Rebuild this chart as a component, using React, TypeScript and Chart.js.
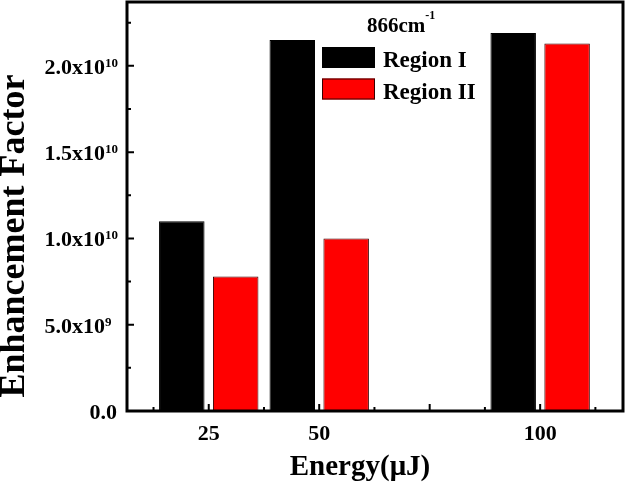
import React, { useEffect, useRef } from "react";
import { Chart, registerables } from "chart.js";

Chart.register(...registerables);

// ---- data ----
const energies = [25, 50, 100];
const regionI = [1.10e10, 2.15e10, 2.19e10];
const regionII = [7.8e9, 1.0e10, 2.13e10];
const seriesLabels = ["Region I", "Region II"];
const seriesColors = ["#000000", "#ff0000"];
const seriesBorders = ["#000000", "#3a0000"];
const xTickLabels = [25, 50, 100];
const xMajorTicks = [25, 50, 75, 100];
const xMinorTicks = [12.5, 37.5, 62.5, 87.5, 112.5];
const yMajorTicks = [0, 5e9, 1e10, 1.5e10, 2e10];
const yMinorTicks = [2.5e9, 7.5e9, 1.25e10, 1.75e10, 2.25e10];
const legendTitle = "866cm";
const legendTitleSup = "-1";
const xTitle = "Energy(\u03bcJ)";
const yTitle = "Enhancement Factor";

const SERIF = "'Liberation Serif', 'Times New Roman', Times, serif";

function splitSci(v: number): [string, string] {
  if (v === 0) return ["0.0", ""];
  const e = Math.floor(Math.log10(v) + 1e-9);
  const m = v / Math.pow(10, e);
  return [m.toFixed(1) + "x10", String(e)];
}

const customPlugin = {
  id: "customDecor",
  beforeDatasetsDraw(chart: any) {
    const { ctx, chartArea } = chart;
    const xs = chart.scales.x;
    const ys = chart.scales.y;
    ctx.save();
    ctx.strokeStyle = "#000";
    ctx.lineWidth = 2;
    ctx.beginPath();
    for (const v of yMajorTicks) {
      const y = ys.getPixelForValue(v);
      ctx.moveTo(chartArea.left, y);
      ctx.lineTo(chartArea.left + 7, y);
    }
    for (const v of yMinorTicks) {
      const y = ys.getPixelForValue(v);
      ctx.moveTo(chartArea.left, y);
      ctx.lineTo(chartArea.left + 4, y);
    }
    for (const v of xMajorTicks) {
      const x = xs.getPixelForValue(v);
      ctx.moveTo(x, chartArea.bottom);
      ctx.lineTo(x, chartArea.bottom - 7);
    }
    for (const v of xMinorTicks) {
      const x = xs.getPixelForValue(v);
      ctx.moveTo(x, chartArea.bottom);
      ctx.lineTo(x, chartArea.bottom - 4);
    }
    ctx.stroke();
    ctx.restore();
  },
  afterDatasetsDraw(chart: any) {
    const { ctx, chartArea } = chart;
    const xs = chart.scales.x;
    const ys = chart.scales.y;
    ctx.save();
    // frame
    ctx.strokeStyle = "#000";
    ctx.lineWidth = 3;
    ctx.strokeRect(
      chartArea.left,
      chartArea.top,
      chartArea.right - chartArea.left,
      chartArea.bottom - chartArea.top
    );

    ctx.fillStyle = "#000";
    // y tick labels with superscripts
    for (const v of yMajorTicks) {
      const y = ys.getPixelForValue(v);
      const [base, exp] = splitSci(v);
      ctx.font = `bold 22px ${SERIF}`;
      const wb = ctx.measureText(base).width;
      const baseRight = exp ? 105 : 117;
      const startX = baseRight - wb;
      ctx.textAlign = "left";
      ctx.textBaseline = "alphabetic";
      ctx.fillText(base, startX, y + 8);
      if (exp) {
        ctx.font = `bold 13px ${SERIF}`;
        ctx.fillText(exp, startX + wb, y + 1);
      }
    }

    // x tick labels
    ctx.font = `bold 22px ${SERIF}`;
    ctx.textAlign = "center";
    ctx.textBaseline = "alphabetic";
    for (const v of xTickLabels) {
      const x = xs.getPixelForValue(v);
      ctx.fillText(String(v), x, 440);
    }

    // x title
    ctx.font = `bold 29px ${SERIF}`;
    ctx.textAlign = "center";
    ctx.fillText(xTitle, 360, 475);

    // y title
    ctx.save();
    ctx.translate(24, 236);
    ctx.rotate(-Math.PI / 2);
    ctx.font = `bold 36px ${SERIF}`;
    ctx.textAlign = "center";
    ctx.textBaseline = "alphabetic";
    ctx.fillText(yTitle, 0, 0);
    ctx.restore();

    // legend
    ctx.textAlign = "left";
    ctx.font = `bold 21px ${SERIF}`;
    ctx.fillText(legendTitle, 367, 31.5);
    const wt = ctx.measureText(legendTitle).width;
    ctx.font = `bold 12px ${SERIF}`;
    ctx.fillText(legendTitleSup, 367 + wt, 19);

    const boxX = 322;
    const boxW = 53;
    const boxH = 21;
    const rows = [47, 78.5];
    const baselines = [66.5, 98.5];
    for (let i = 0; i < seriesLabels.length; i++) {
      ctx.fillStyle = seriesColors[i];
      ctx.fillRect(boxX, rows[i], boxW, boxH);
      ctx.lineWidth = 1;
      ctx.strokeStyle = seriesBorders[i];
      ctx.strokeRect(boxX + 0.5, rows[i] + 0.5, boxW - 1, boxH - 1);
      ctx.fillStyle = "#000";
      ctx.font = `bold 23px ${SERIF}`;
      ctx.fillText(seriesLabels[i], 383, baselines[i]);
    }
    ctx.restore();
  },
};

export default function App() {
  const ref = useRef<HTMLCanvasElement | null>(null);
  useEffect(() => {
    document.body.style.margin = "0";
    const canvas = ref.current;
    if (!canvas) return;
    const chart = new Chart(canvas, {
      type: "bar",
      data: {
        datasets: [
          {
            label: seriesLabels[0],
            data: energies.map((e, i) => ({ x: e, y: regionI[i] })),
            backgroundColor: seriesColors[0],
            borderColor: seriesBorders[0],
            borderWidth: 1,
          },
          {
            label: seriesLabels[1],
            data: energies.map((e, i) => ({ x: e, y: regionII[i] })),
            backgroundColor: seriesColors[1],
            borderColor: seriesBorders[1],
            borderWidth: 1,
          },
        ],
      },
      options: {
        animation: false,
        responsive: false,
        devicePixelRatio: 1,
        barPercentage: 0.844,
        categoryPercentage: 0.976,
        layout: { padding: { top: 2, right: 2, left: 0, bottom: 0 } },
        plugins: {
          legend: { display: false },
          tooltip: { enabled: false },
          title: { display: false },
        },
        scales: {
          x: {
            type: "linear",
            min: 6.5,
            max: 118.75,
            offset: false,
            grid: { display: false },
            border: { display: false },
            ticks: { display: false },
            afterBuildTicks: (s: any) => {
              s.ticks = xTickLabels.map((v) => ({ value: v }));
            },
            afterFit: (s: any) => {
              s.height = 74;
            },
          },
          y: {
            type: "linear",
            min: 0,
            max: 2.37e10,
            grid: { display: false },
            border: { display: false },
            ticks: { display: false },
            afterFit: (s: any) => {
              s.width = 127;
            },
          },
        },
      } as any,
      plugins: [customPlugin],
    });
    return () => chart.destroy();
  }, []);
  return (
    <canvas
      ref={ref}
      width={625}
      height={485}
      style={{ display: "block", width: 625, height: 485 }}
    />
  );
}
